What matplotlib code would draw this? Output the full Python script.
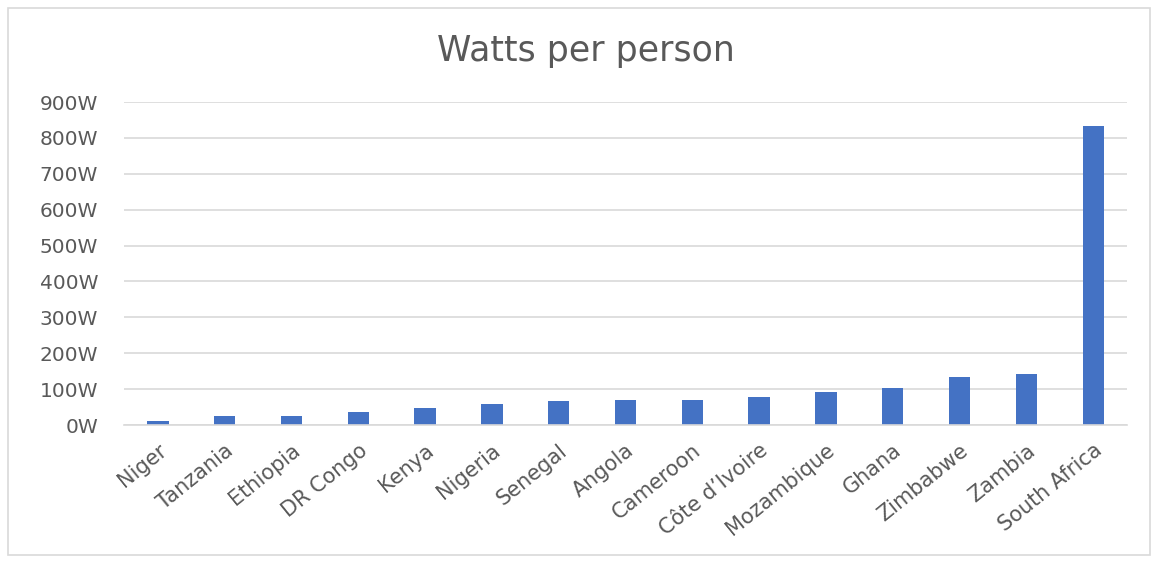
import matplotlib.pyplot as plt
from matplotlib.patches import Rectangle

countries = ["Niger", "Tanzania", "Ethiopia", "DR Congo", "Kenya", "Nigeria",
             "Senegal", "Angola", "Cameroon", "Côte d’Ivoire", "Mozambique",
             "Ghana", "Zimbabwe", "Zambia", "South Africa"]
watts = [10, 24, 24, 35, 48, 59, 66, 70, 70, 79, 93, 104, 135, 143, 833]
y_ticks = [0, 100, 200, 300, 400, 500, 600, 700, 800, 900]

plt.rcParams["font.family"] = ["DejaVu Sans"]
text_color = "#595959"
grid_color = "#d9d9d9"

fig = plt.figure(figsize=(11.52, 5.61), dpi=100)
ax = fig.add_axes([0.108, 0.2424, 0.870, 0.5756])

x = range(len(countries))
ax.bar(x, watts, width=0.32, color="#4472C4")

ax.set_xlim(-0.5, len(countries) - 0.5)
ax.set_ylim(0, 900)
ax.set_yticks(y_ticks)
ax.set_yticklabels([f"{v}W" for v in y_ticks])
ax.set_xticks(list(x))
ax.set_xticklabels(countries, rotation=39, ha="right", rotation_mode="anchor")

ax.tick_params(axis="y", length=0, labelsize=14.5, colors=text_color, pad=19)
ax.tick_params(axis="x", length=0, labelsize=15, colors=text_color, pad=11)
ax.grid(axis="y", color=grid_color, linewidth=1.2)
ax.set_axisbelow(True)
for side in ["top", "right", "left"]:
    ax.spines[side].set_visible(False)
ax.spines["bottom"].set_color(grid_color)
ax.spines["bottom"].set_linewidth(1.2)

fig.text(0.509, 1 - 61 / 561, "Watts per person", ha="center", va="baseline",
         fontsize=25, color=text_color)

fig.patches.append(Rectangle((8 / 1152, 6 / 561), 1 - 10 / 1152, 1 - 14 / 561,
                             transform=fig.transFigure, fill=False,
                             edgecolor="#d9d9d9", linewidth=1.2))

fig.savefig("out.png", dpi=100)
